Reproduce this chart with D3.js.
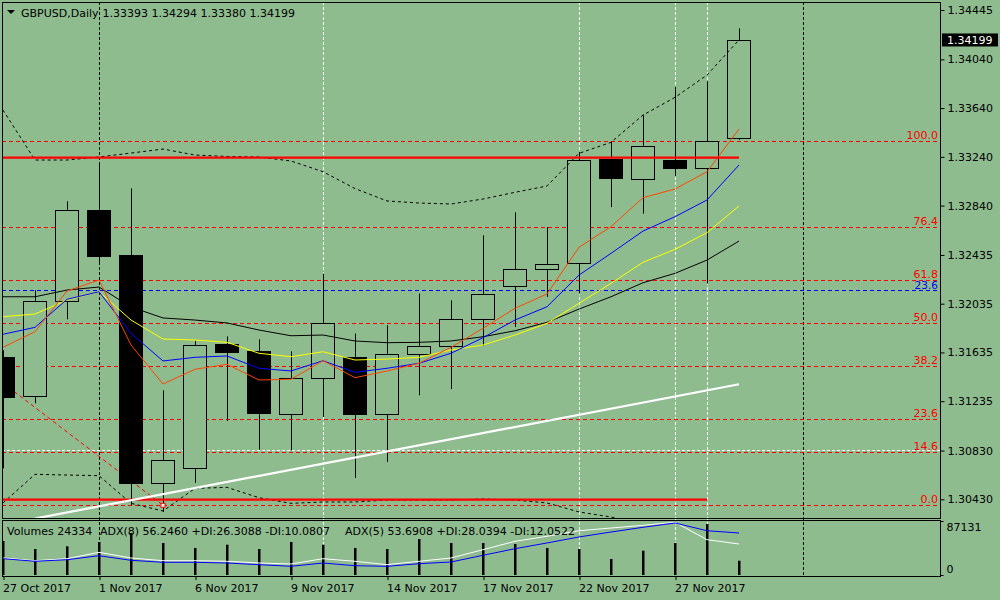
<!DOCTYPE html>
<html>
<head>
<meta charset="utf-8">
<script src="https://cdn.jsdelivr.net/npm/d3@7"></script>
<style>
body { margin: 0; background: #8fbc8f; }
svg { display: block; font-family: "DejaVu Sans", sans-serif; font-size: 11px; }
</style>
</head>
<body>
<svg width="1000" height="600"></svg>
<script>
// ---- data ----
const dates = ['27 Oct 2017','30 Oct 2017','31 Oct 2017','1 Nov 2017','2 Nov 2017','3 Nov 2017',
  '6 Nov 2017','7 Nov 2017','8 Nov 2017','9 Nov 2017','10 Nov 2017','13 Nov 2017',
  '14 Nov 2017','15 Nov 2017','16 Nov 2017','17 Nov 2017','20 Nov 2017','21 Nov 2017',
  '22 Nov 2017','23 Nov 2017','24 Nov 2017','27 Nov 2017','28 Nov 2017','29 Nov 2017'];

const opens  = [1.31595,1.31275,1.32055,1.32801,1.32432,1.30561,1.30687,1.31702,1.31644,1.31133,1.31429,1.31601,
                1.31133,1.31626,1.31691,1.31913,1.32183,1.32323,1.32364,1.33220,1.33061,1.33212,1.33152,1.33393];
const highs  = [1.31653,1.32145,1.32875,1.33195,1.32982,1.31324,1.31729,1.31767,1.31743,1.31644,1.32282,1.31790,
                1.31858,1.32118,1.32063,1.32596,1.32785,1.32664,1.33280,1.33362,1.33587,1.33813,1.33860,1.34294];
const lows   = [1.30684,1.31218,1.31907,1.32375,1.30381,1.30326,1.30564,1.31072,1.30838,1.30832,1.31105,1.30605,
                1.30736,1.31283,1.31335,1.31691,1.31844,1.32090,1.32118,1.32828,1.32774,1.33083,1.32200,1.33380];
const closes = [1.31267,1.32055,1.32801,1.32424,1.30561,1.30750,1.31694,1.31639,1.31133,1.31429,1.31880,1.31133,
                1.31626,1.31691,1.31913,1.32118,1.32323,1.32364,1.33212,1.33066,1.33332,1.33148,1.33373,1.34199];
const volumes = [58087,44420,49032,56379,71755,54670,46128,51766,44420,56379,51766,46128,
                 44420,61504,54670,54670,52962,46128,44420,27335,41515,54670,87131,24334];

const maRed    = [1.31677,1.31805,1.32139,1.32229,1.31696,1.31376,1.31497,1.31538,1.31409,1.31415,1.31567,1.31428,
                  1.31483,1.31546,1.31677,1.31833,1.31997,1.32115,1.32498,1.32667,1.32905,1.32976,1.33118,1.33468];
const maBlue   = [1.31784,1.31841,1.32071,1.32133,1.31792,1.31565,1.31595,1.31606,1.31505,1.31483,1.31567,1.31472,
                  1.31505,1.31546,1.31628,1.31756,1.31901,1.32010,1.32270,1.32448,1.32631,1.32749,1.32886,1.33173];
const maYellow = [1.31928,1.31950,1.32065,1.32133,1.31901,1.31745,1.31737,1.31718,1.31628,1.31600,1.31641,1.31573,
                  1.31581,1.31595,1.31655,1.31696,1.31778,1.31874,1.32038,1.32202,1.32375,1.32481,1.32618,1.32837];
const maBlack  = [1.32092,1.32092,1.32147,1.32172,1.32008,1.31918,1.31901,1.31877,1.31819,1.31772,1.31778,1.31729,
                  1.31715,1.31718,1.31729,1.31764,1.31813,1.31882,1.31991,1.32092,1.32207,1.32284,1.32393,1.32549];
const bandUpper = [1.33624,1.33214,1.33214,1.33239,1.33271,1.33304,1.33255,1.33243,1.33239,1.33206,1.33118,1.32980,
                   1.32878,1.32861,1.32853,1.32894,1.32949,1.33001,1.33269,1.33359,1.33583,1.33728,1.33911,1.34199];
const bandLower = [1.30400,1.30635,1.30629,1.30624,1.30397,1.30334,1.30520,1.30528,1.30443,1.30397,1.30408,1.30408,
                   1.30424,1.30424,1.30424,1.30432,1.30424,1.30400,1.30326,1.30285,1.30227,1.30178,1.30096,1.29998];

const adxWhite = [31.5,26.5,30.2,42.0,31.5,26.5,26.5,25.4,22.2,20.4,30.2,25.4,
                  19.1,25.4,31.5,46.9,62.4,71.7,82.0,87.0,92.0,97.6,65.4,57.4];
const adxBlue  = [30.2,25.4,28.3,35.7,27.2,23.5,23.5,22.2,19.1,16.1,22.2,17.2,
                  16.1,20.9,24.1,36.5,48.7,59.3,70.4,79.6,88.3,96.3,82.0,77.8];

const priceTicks = [1.34445,1.34040,1.33640,1.33240,1.32840,1.32435,1.32035,1.31635,1.31235,1.30830,1.30430];
const dateTicks = [0,3,6,9,12,15,18,21];
const volTicks = [0, 87131];

const fibLevels = [0, 14.6, 23.6, 38.2, 50, 61.8, 76.4, 100];
const fibLow = 1.30383, fibHigh = 1.33370;
const blueFib = {level: 23.6, price: 1.32145};
const redLines = [{p: 1.33233, from: -1, to: 23}, {p: 1.30428, from: -1, to: 22}];
const whiteDashPrice = 1.30832;
const trendWhite = [[1, 1.30272], [23, 1.31374]];
const fibDiagonal = [[0, 1.31384], [5, 1.30381]];
const vBlack = [3, 25];
const vWhite = [10, 18, 21, 22];

const adxHeader = ['ADX(8) 56.2460 +DI:26.3088 -DI:10.0807', 'ADX(5) 53.6908 +DI:28.0394 -DI:12.0522'];

// ---- layout ----
const L = 2, R = 940, T = 2, B = 518, subT = 520, subB = 576;
const svg = d3.select('svg');
const fmt = d3.format('.5f');

const x = d3.scaleLinear().domain([0, 23]).range([3, 739]);
const y = d3.scaleLinear().domain([1.30430, 1.34445]).range([499.3, 10]);
const yv = d3.scaleLinear().domain([0, 87131]).range([575, 524]);
const ya = d3.scaleLinear().domain([0, 100]).range([575, 521]);
const px = v => Math.round(v) + 0.5;

const defs = svg.append('defs');
defs.append('clipPath').attr('id', 'cm').append('rect')
  .attr('x', L).attr('y', T).attr('width', R - L).attr('height', B - T);
defs.append('clipPath').attr('id', 'cs').append('rect')
  .attr('x', L).attr('y', subT).attr('width', R - L).attr('height', subB - subT);

// vertical lines across both panels
svg.selectAll('.vb').data(vBlack).enter().append('line')
  .attr('x1', d => px(x(d))).attr('x2', d => px(x(d))).attr('y1', T).attr('y2', subB)
  .attr('stroke', '#000').attr('stroke-dasharray', '3,2');
svg.selectAll('.vw').data(vWhite).enter().append('line')
  .attr('x1', d => px(x(d))).attr('x2', d => px(x(d))).attr('y1', T).attr('y2', subB)
  .attr('stroke', '#fff').attr('stroke-dasharray', '3,2');

const g = svg.append('g').attr('clip-path', 'url(#cm)');

// fibonacci levels
const fibPrice = lv => fibLow + (fibHigh - fibLow) * lv / 100;
g.selectAll('.fib').data(fibLevels).enter().append('line')
  .attr('x1', L).attr('x2', R)
  .attr('y1', d => px(y(fibPrice(d)))).attr('y2', d => px(y(fibPrice(d))))
  .attr('stroke', '#ff0000').attr('stroke-dasharray', '4,3');
svg.selectAll('.fibt').data(fibLevels).enter().append('text')
  .attr('x', R - 2).attr('y', d => y(fibPrice(d)) - 2)
  .attr('text-anchor', 'end').attr('fill', '#ff0000')
  .text(d => d.toFixed(1));

g.append('line').attr('x1', L).attr('x2', R)
  .attr('y1', px(y(blueFib.price))).attr('y2', px(y(blueFib.price)))
  .attr('stroke', '#0000ff').attr('stroke-dasharray', '4,3');
svg.append('text').attr('x', R - 2).attr('y', y(blueFib.price) - 1)
  .attr('text-anchor', 'end').attr('fill', '#0000ff').attr('font-size', 10.5)
  .text(blueFib.level.toFixed(1));

g.append('line').attr('x1', L).attr('x2', R)
  .attr('y1', px(y(whiteDashPrice))).attr('y2', px(y(whiteDashPrice)))
  .attr('stroke', '#fff').attr('stroke-dasharray', '3,2');

// fib diagonal
g.append('line')
  .attr('x1', x(fibDiagonal[0][0])).attr('y1', y(fibDiagonal[0][1]))
  .attr('x2', x(fibDiagonal[1][0])).attr('y2', y(fibDiagonal[1][1]))
  .attr('stroke', '#ff0000').attr('stroke-dasharray', '4,3');

// candles
const idx = d3.range(opens.length);
g.selectAll('.wick').data(idx).enter().append('line')
  .attr('x1', i => x(i) + 0.5).attr('x2', i => x(i) + 0.5)
  .attr('y1', i => y(highs[i])).attr('y2', i => y(lows[i]))
  .attr('stroke', '#000');
g.selectAll('.body').data(idx).enter().append('rect')
  .attr('x', i => x(i) - 11.5)
  .attr('width', 23)
  .attr('y', i => px(y(Math.max(opens[i], closes[i]))))
  .attr('height', i => Math.max(1, Math.round(y(Math.min(opens[i], closes[i])) - y(Math.max(opens[i], closes[i])))))
  .attr('fill', i => closes[i] < opens[i] ? '#000' : '#8fbc8f')
  .attr('stroke', '#000');

// moving averages and bands
const line = d3.line().x((d, i) => x(i)).y(d => y(d));
[[bandUpper, '#000', '3,3'], [bandLower, '#000', '3,3'],
 [maBlack, '#000', null], [maYellow, '#ffff00', null],
 [maBlue, '#0000ff', null], [maRed, '#ff4500', null]].forEach(([s, c, dash]) => {
  g.append('path').datum(s).attr('d', line)
    .attr('fill', 'none').attr('stroke', c).attr('stroke-width', 1)
    .attr('stroke-dasharray', dash);
});

// horizontal red lines
g.selectAll('.hr').data(redLines).enter().append('line')
  .attr('x1', d => x(d.from)).attr('x2', d => x(d.to))
  .attr('y1', d => y(d.p)).attr('y2', d => y(d.p))
  .attr('stroke', '#ff0000').attr('stroke-width', 2.2);

// white trend line
g.append('line')
  .attr('x1', x(trendWhite[0][0])).attr('y1', y(trendWhite[0][1]))
  .attr('x2', x(trendWhite[1][0])).attr('y2', y(trendWhite[1][1]))
  .attr('stroke', '#fff').attr('stroke-width', 2.2);

g.append('rect')
  .attr('x', x(fibDiagonal[1][0]) - 2).attr('y', y(fibDiagonal[1][1]) - 2)
  .attr('width', 4).attr('height', 4)
  .attr('fill', '#fff').attr('stroke', '#ff0000');

// sub panel: volumes and ADX
const gs = svg.append('g').attr('clip-path', 'url(#cs)');
gs.selectAll('.vol').data(idx).enter().append('rect')
  .attr('x', i => x(i) - 1).attr('width', 2.5)
  .attr('y', i => yv(volumes[i])).attr('height', i => yv(0) - yv(volumes[i]))
  .attr('fill', '#000');
const aline = d3.line().x((d, i) => x(i)).y(d => ya(d));
gs.append('path').datum(adxWhite).attr('d', aline)
  .attr('fill', 'none').attr('stroke', '#fff');
gs.append('path').datum(adxBlue).attr('d', aline)
  .attr('fill', 'none').attr('stroke', '#0000ff');

// frames
svg.append('rect').attr('x', L + 0.5).attr('y', T + 0.5).attr('width', R - L).attr('height', B - T)
  .attr('fill', 'none').attr('stroke', '#000');
svg.append('rect').attr('x', L + 0.5).attr('y', subT + 0.5).attr('width', R - L).attr('height', subB - subT)
  .attr('fill', 'none').attr('stroke', '#000');

// price axis
const ay = svg.append('g').attr('transform', `translate(${R + 0.5},0)`)
  .call(d3.axisRight(y).tickValues(priceTicks).tickSize(4).tickPadding(3).tickFormat(fmt));
ay.select('.domain').remove();
ay.attr('font-family', '"DejaVu Sans", sans-serif').attr('font-size', 11);
ay.selectAll('text').attr('fill', '#000');

// current price box
const last = closes[closes.length - 1];
svg.append('rect').attr('x', 942).attr('y', y(last) - 6.5).attr('width', 56).attr('height', 13).attr('fill', '#000');
svg.append('text').attr('x', 947).attr('y', y(last)).attr('dy', '0.35em').attr('fill', '#fff').text(fmt(last));

// volume axis
const av = svg.append('g').attr('transform', `translate(${R + 0.5},0)`)
  .call(d3.axisRight(d3.scaleLinear().domain([0, 87131]).range([575, 521]))
    .tickValues(volTicks).tickSize(3).tickPadding(3).tickFormat(d3.format('d')));
av.select('.domain').remove();
av.attr('font-family', '"DejaVu Sans", sans-serif').attr('font-size', 11);
av.selectAll('text').attr('dy', d => d === 0 ? '-0.25em' : '0.85em');

// date axis
const ax = svg.append('g').attr('transform', `translate(0.5,${subB})`)
  .call(d3.axisBottom(x).tickValues(dateTicks).tickSize(4).tickPadding(4).tickFormat(i => dates[i]));
ax.select('.domain').remove();
ax.attr('font-family', '"DejaVu Sans", sans-serif').attr('font-size', 11);
ax.selectAll('text').attr('text-anchor', 'start').attr('x', -1);

// headers
svg.append('path').attr('d', 'M7,10 L15,10 L11,14 Z').attr('fill', '#000');
svg.append('text').attr('x', 21).attr('y', 16.5).text('GBPUSD,Daily');
svg.append('text').attr('x', 102.5).attr('y', 16.5)
  .text([opens, highs, lows, closes].map(s => fmt(s[s.length - 1])).join(' '));

svg.append('text').attr('x', 7).attr('y', 535).text('Volumes ' + volumes[volumes.length - 1]);
svg.append('text').attr('x', 100).attr('y', 535).text(adxHeader[0]);
svg.append('text').attr('x', 345).attr('y', 535).text(adxHeader[1]);
</script>
</body>
</html>
